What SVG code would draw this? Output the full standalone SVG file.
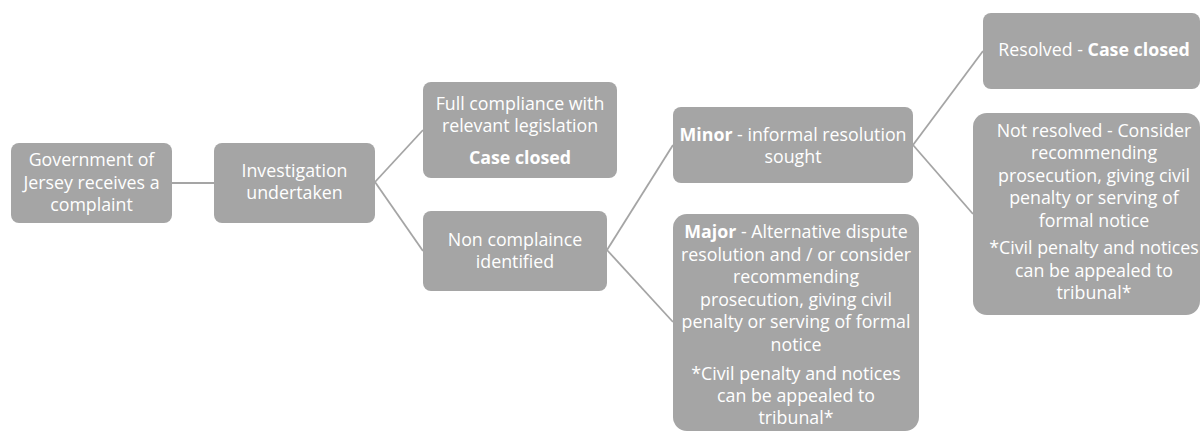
<svg xmlns="http://www.w3.org/2000/svg" width="1201" height="432" viewBox="0 0 1201 432">
<style>
.box{fill:#a5a5a5;}
.t{font-family:"Open Sans","Liberation Sans",sans-serif;font-size:17.8px;fill:#ffffff;text-anchor:middle;}
.b{font-weight:bold;}
.c{stroke:#a5a5a5;stroke-width:1.8;fill:none;}
</style>
<rect width="1201" height="432" fill="#ffffff"/>
<g id="connectors">
<line class="c" x1="172" y1="183" x2="214" y2="183"/>
<line class="c" x1="375" y1="182" x2="423" y2="130"/>
<line class="c" x1="375" y1="182" x2="423" y2="251"/>
<line class="c" x1="607" y1="250" x2="673" y2="145"/>
<line class="c" x1="607" y1="250" x2="673" y2="322"/>
<line class="c" x1="913" y1="145" x2="983" y2="51"/>
<line class="c" x1="913" y1="145" x2="973" y2="214"/>
</g>
<g id="node-complaint">
<rect class="box" x="11" y="143" width="161" height="80" rx="8"/>
<text class="t" x="91.5" y="166">Government of</text>
<text class="t" x="91.5" y="188.5">Jersey receives a</text>
<text class="t" x="91.5" y="211">complaint</text>
</g>
<g id="node-investigation">
<rect class="box" x="214" y="143" width="161" height="80" rx="8"/>
<text class="t" x="294.5" y="177">Investigation</text>
<text class="t" x="294.5" y="199">undertaken</text>
</g>
<g id="node-full-compliance">
<rect class="box" x="423" y="82" width="194" height="96" rx="8"/>
<text class="t" x="520" y="110">Full compliance with</text>
<text class="t" x="520" y="132">relevant legislation</text>
<text class="t b" x="520" y="164">Case closed</text>
</g>
<g id="node-non-compliance">
<rect class="box" x="423" y="211" width="184" height="80" rx="8"/>
<text class="t" x="515" y="246">Non complaince</text>
<text class="t" x="515" y="268">identified</text>
</g>
<g id="node-minor">
<rect class="box" x="673" y="107" width="240" height="76" rx="8"/>
<text class="t" x="793" y="141"><tspan class="b">Minor</tspan> - informal resolution</text>
<text class="t" x="793" y="163">sought</text>
</g>
<g id="node-major">
<rect class="box" x="673" y="214" width="246" height="217" rx="14"/>
<text class="t" x="796" y="238"><tspan class="b">Major</tspan> - Alternative dispute</text>
<text class="t" x="796" y="260.5">resolution and / or consider</text>
<text class="t" x="796" y="283">recommending</text>
<text class="t" x="796" y="305.5">prosecution, giving civil</text>
<text class="t" x="796" y="328">penalty or serving of formal</text>
<text class="t" x="796" y="350.5">notice</text>
<text class="t" x="796" y="380">*Civil penalty and notices</text>
<text class="t" x="796" y="402">can be appealed to</text>
<text class="t" x="796" y="424">tribunal*</text>
</g>
<g id="node-resolved">
<rect class="box" x="983" y="13" width="217" height="76" rx="8"/>
<text class="t" x="1094" y="56">Resolved - <tspan class="b">Case closed</tspan></text>
</g>
<g id="node-not-resolved">
<rect class="box" x="973" y="113" width="227" height="202" rx="14"/>
<text class="t" x="1094" y="136.5">Not resolved - Consider</text>
<text class="t" x="1094" y="159">recommending</text>
<text class="t" x="1094" y="181.5">prosecution, giving civil</text>
<text class="t" x="1094" y="204">penalty or serving of</text>
<text class="t" x="1094" y="226.5">formal notice</text>
<text class="t" x="1094" y="254">*Civil penalty and notices</text>
<text class="t" x="1094" y="276.5">can be appealed to</text>
<text class="t" x="1094" y="299">tribunal*</text>
</g>
</svg>
